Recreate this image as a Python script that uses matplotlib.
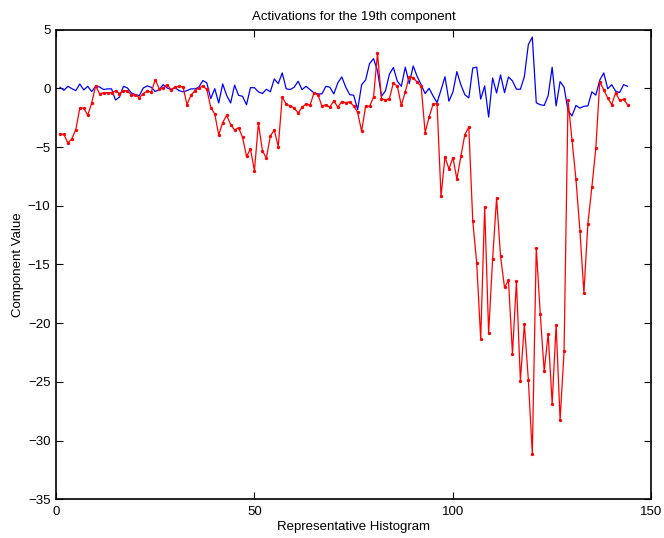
import matplotlib
matplotlib.use("Agg")
import matplotlib.pyplot as plt
import numpy as np

# Activation values for the 19th component, one per representative histogram
blue_vals = [
    0.09, -0.17, 0.17, -0.03, -0.20, 0.37, -0.14, 0.17, -0.28, 0.17,
    0.11, -0.11, -0.05, -0.05, -1.00, -0.74, 0.17, 0.03, -0.40, -0.54,
    -0.62, 0.03, 0.20, 0.09, -0.28, -0.11, 0.31, 0.03, -0.11, 0.05,
    -0.20, -0.30, -0.20, -0.05, -0.05, 0.10, 0.66, 0.46, -0.88, -0.03,
    -1.25, 0.37, -0.60, -1.25, 0.27, -0.60, -0.68, -1.40, 0.06, 0.05,
    -0.30, -0.45, -0.08, -0.30, 0.80, 0.40, 1.31, -0.04, -0.11, 0.09,
    0.60, -0.11, 0.17, -0.11, -0.39, -0.48, -0.48, 0.17, 0.09, -0.48,
    0.46, 0.97, 0.10, -0.54, -0.59, -1.82, 0.30, 0.70, 2.10, 2.53,
    1.50, -0.68, -0.22, 1.20, 1.77, 0.60, 0.17, 1.80, 0.40, 1.90,
    1.00, 0.30, -0.45, 0.00, -0.65, -1.22, -0.15, 0.98, -1.10, -0.32,
    1.42, 0.30, -0.54, -0.82, 1.73, 1.80, -0.92, 0.20, -2.45, 0.88,
    -0.40, 1.14, -0.37, 0.97, 0.63, -0.08, -0.08, 1.00, 3.72, 4.36,
    -1.23, -1.40, -1.46, -0.62, 1.80, -1.50, 0.57, 0.10, -1.90, -2.35,
    -1.46, -1.69, -1.53, -1.50, -0.30, -0.58, 0.70, 1.31, -0.04, 0.31,
    -0.25, -0.36, 0.31, 0.17,
]

red_vals = [
    -3.89, -3.92, -4.66, -4.29, -3.52, -1.70, -1.67, -2.30, -1.25, 0.23,
    -0.48, -0.37, -0.37, -0.37, -0.22, -0.45, -0.20, -0.22, -0.57, -0.57,
    -0.79, -0.45, -0.22, -0.34, 0.74, -0.03, 0.03, 0.31, -0.11, 0.10,
    0.17, 0.13, -1.39, -0.60, -0.20, 0.03, 0.20, -0.10, -1.64, -2.18,
    -3.97, -2.92, -2.30, -3.09, -3.56, -3.35, -4.17, -5.80, -5.17, -7.02,
    -2.96, -5.30, -5.95, -4.06, -3.56, -4.98, -0.72, -1.36, -1.48, -1.67,
    -2.10, -1.62, -1.33, -1.45, -0.39, -0.54, -1.53, -1.39, -1.62, -1.05,
    -1.62, -1.13, -1.22, -1.16, -1.50, -2.05, -3.67, -1.53, -1.53, -0.76,
    2.98, -0.88, -1.00, -0.88, 0.46, 0.17, -1.45, -0.30, 1.00, 0.90,
    0.52, 0.17, -3.77, -2.45, -1.36, -1.30, -9.20, -5.85, -6.87, -5.90,
    -7.73, -5.80, -3.95, -3.30, -11.28, -14.89, -21.36, -10.11, -20.85, -14.55,
    -9.34, -14.32, -16.96, -16.36, -22.60, -16.45, -24.90, -20.07, -24.82, -31.14,
    -13.60, -19.20, -24.10, -20.90, -26.87, -20.14, -28.24, -22.41, -1.03, -4.37,
    -7.76, -12.13, -17.44, -11.53, -8.43, -5.12, 0.57, -0.14, -0.82, -1.39,
    -0.37, -1.03, -0.95, -1.39,
]

x_ticks = [0, 50, 100, 150]
y_ticks = [5, 0, -5, -10, -15, -20, -25, -30, -35]

plt.rcParams['font.family'] = ['Liberation Sans', 'DejaVu Sans']

x = np.arange(1, len(blue_vals) + 1)

fig = plt.figure(figsize=(6.64, 5.38), dpi=100)
ax = fig.add_axes([0.0843, 0.072, 0.8967, 0.873])

ax.plot(x, blue_vals, color='#0000ff', lw=0.9)
ax.plot(x, red_vals, color='#ff0000', lw=0.9, marker='.', markersize=2.8)

ax.set_xlim(0, 150)
ax.set_ylim(-35, 5)
ax.set_xticks(x_ticks)
ax.set_yticks(y_ticks)
ax.tick_params(direction='in', length=5, width=0.8, top=True, right=True,
               labelsize=9.5)
ax.tick_params(axis='x', pad=5)
ax.tick_params(axis='y', pad=4)
for s in ax.spines.values():
    s.set_linewidth(1.2)

ax.set_title('Activations for the 19th component', fontsize=9.5, pad=7)
ax.set_xlabel('Representative Histogram', fontsize=9.5, labelpad=2)
ax.set_ylabel('Component Value', fontsize=9.5, labelpad=3)

fig.savefig('out.png', dpi=100)
